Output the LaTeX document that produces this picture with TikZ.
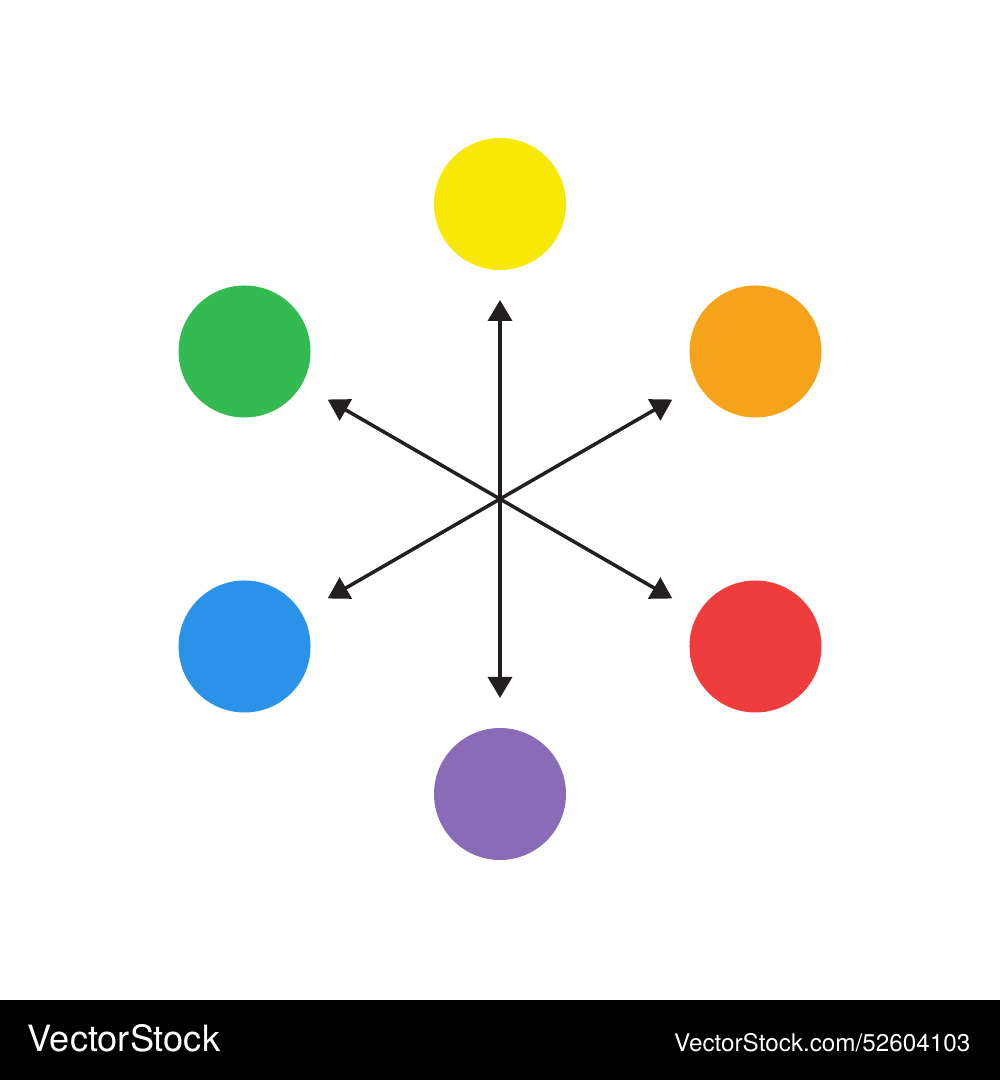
\documentclass[tikz,border=0pt]{standalone}
\usepackage{fontspec}
\setmainfont{TeX Gyre Heros}
\usetikzlibrary{calc,arrows.meta}

\definecolor{wheelyellow}{HTML}{F7E806}
\definecolor{wheelorange}{HTML}{F5A31B}
\definecolor{wheelred}{HTML}{EF3D3E}
\definecolor{wheelpurple}{HTML}{8A6BB7}
\definecolor{wheelblue}{HTML}{2A93E9}
\definecolor{wheelgreen}{HTML}{33BB52}
\definecolor{spokeblack}{HTML}{231F20}

\tikzset{
  dot/.style={circle,inner sep=0,minimum size=1.32cm},
  spoke/.style={draw=spokeblack,line width=1pt,-{Triangle[width=0.24cm,length=0.21cm]}},
  footer/.style={text=white,inner sep=0}
}

\begin{document}
\begin{tikzpicture}
\useasboundingbox (0,0) rectangle (10,10.8);
\fill[black] (0,0) rectangle (10,0.8);
\coordinate (C) at (5,5.81);

% colour wheel
\foreach\ang/\col/\nm in {90/wheelyellow/Y,30/wheelorange/O,-30/wheelred/R,-90/wheelpurple/P,-150/wheelblue/B,150/wheelgreen/G} {
  \node[dot,fill=\col] (\nm) at ($(C)+(\ang:2.95)$) {};
  \coordinate (T\nm) at ($(C)+(\ang:1.99)$);
  \draw[spoke] (C) -- (T\nm);
}

\node[footer,anchor=base west,font=\fontsize{10.3}{12}\selectfont] (brand) at (0.27,0.28) {VectorStock};
\node[footer,anchor=base east,font=\fontsize{6.9}{8}\selectfont] (imgid) at (9.71,0.29) {VectorStock.com/52604103};
\end{tikzpicture}
\end{document}
